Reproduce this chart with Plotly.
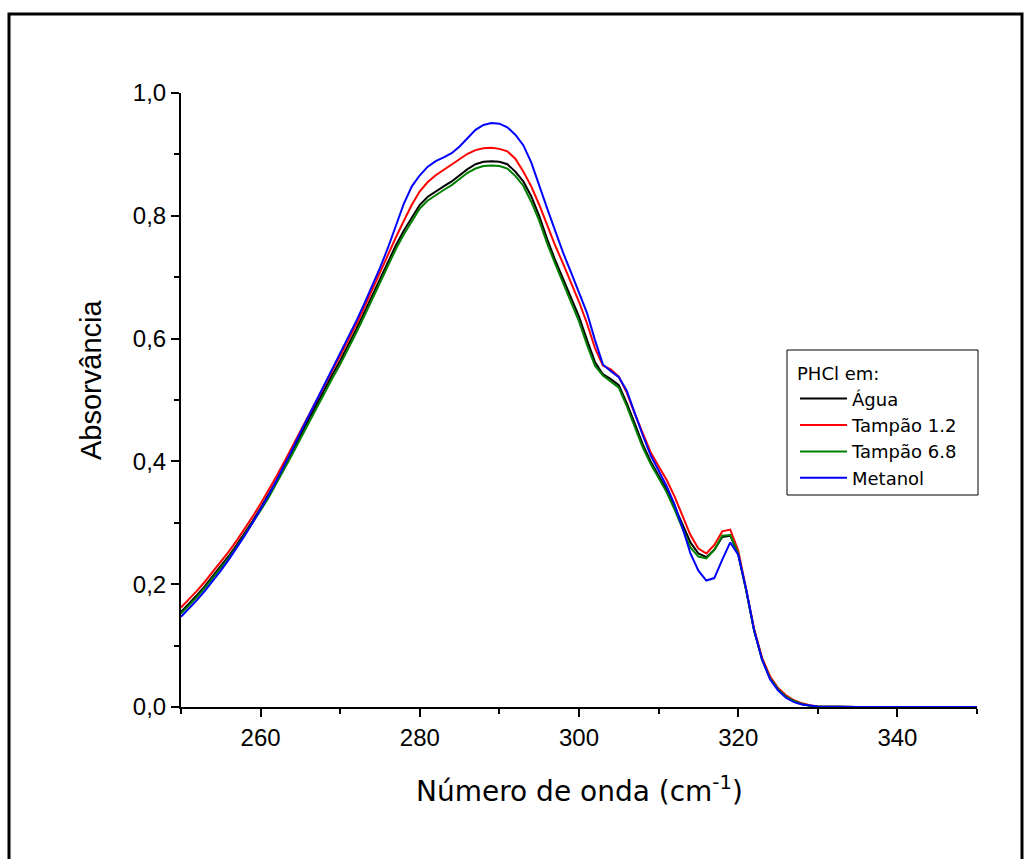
import plotly.graph_objects as go

wavenumber = list(range(250, 331)) + [335, 340, 345, 350]

agua = [0.155, 0.168, 0.182, 0.197, 0.213, 0.229, 0.246, 0.264, 0.283, 0.303,
        0.324, 0.346, 0.369, 0.393, 0.418, 0.443, 0.468, 0.493, 0.517, 0.541,
        0.564, 0.589, 0.615, 0.642, 0.670, 0.698, 0.726, 0.752, 0.776, 0.798,
        0.818, 0.831, 0.840, 0.848, 0.856, 0.866, 0.876, 0.884, 0.888, 0.889,
        0.888, 0.884, 0.872, 0.856, 0.832, 0.800, 0.762, 0.728, 0.697, 0.667,
        0.636, 0.598, 0.562, 0.542, 0.534, 0.524, 0.495, 0.462, 0.428, 0.400,
        0.378, 0.354, 0.327, 0.297, 0.268, 0.250, 0.244, 0.256, 0.277, 0.279,
        0.249, 0.190, 0.125, 0.078, 0.048, 0.030, 0.018, 0.010, 0.005, 0.002,
        0.001, 0.0, 0.0, 0.0, 0.0]

tampao12 = [0.162, 0.175, 0.189, 0.204, 0.220, 0.236, 0.253, 0.271, 0.290, 0.310,
            0.331, 0.353, 0.376, 0.400, 0.425, 0.450, 0.475, 0.500, 0.524, 0.548,
            0.572, 0.597, 0.623, 0.650, 0.679, 0.708, 0.737, 0.765, 0.792, 0.818,
            0.840, 0.855, 0.866, 0.875, 0.883, 0.892, 0.901, 0.907, 0.910, 0.911,
            0.909, 0.905, 0.893, 0.872, 0.848, 0.818, 0.784, 0.752, 0.722, 0.692,
            0.660, 0.625, 0.585, 0.556, 0.550, 0.538, 0.512, 0.478, 0.445, 0.415,
            0.392, 0.370, 0.343, 0.312, 0.280, 0.258, 0.250, 0.264, 0.286, 0.289,
            0.255, 0.192, 0.127, 0.080, 0.050, 0.031, 0.019, 0.011, 0.006, 0.003,
            0.001, 0.0, 0.0, 0.0, 0.0]

tampao68 = [0.152, 0.165, 0.179, 0.194, 0.210, 0.226, 0.243, 0.261, 0.280, 0.299,
            0.320, 0.341, 0.364, 0.388, 0.412, 0.437, 0.462, 0.487, 0.511, 0.535,
            0.558, 0.583, 0.609, 0.636, 0.664, 0.692, 0.720, 0.746, 0.770, 0.792,
            0.812, 0.825, 0.834, 0.842, 0.850, 0.860, 0.870, 0.877, 0.881, 0.882,
            0.881, 0.877, 0.865, 0.849, 0.823, 0.792, 0.755, 0.722, 0.690, 0.660,
            0.628, 0.590, 0.556, 0.540, 0.530, 0.520, 0.490, 0.456, 0.423, 0.396,
            0.374, 0.350, 0.322, 0.290, 0.260, 0.245, 0.242, 0.256, 0.279, 0.280,
            0.250, 0.190, 0.124, 0.077, 0.047, 0.029, 0.017, 0.010, 0.005, 0.002,
            0.001, 0.0, 0.0, 0.0, 0.0]

metanol = [0.147, 0.160, 0.174, 0.189, 0.205, 0.222, 0.240, 0.259, 0.279, 0.300,
           0.322, 0.345, 0.369, 0.394, 0.420, 0.447, 0.473, 0.499, 0.525, 0.550,
           0.575, 0.601, 0.628, 0.656, 0.685, 0.715, 0.748, 0.785, 0.820, 0.848,
           0.866, 0.880, 0.889, 0.895, 0.902, 0.913, 0.926, 0.940, 0.948, 0.951,
           0.950, 0.944, 0.932, 0.915, 0.887, 0.848, 0.812, 0.776, 0.740, 0.708,
           0.676, 0.642, 0.598, 0.558, 0.547, 0.537, 0.515, 0.478, 0.443, 0.410,
           0.385, 0.360, 0.330, 0.292, 0.250, 0.222, 0.206, 0.210, 0.240, 0.268,
           0.248, 0.192, 0.125, 0.077, 0.045, 0.027, 0.015, 0.008, 0.004, 0.002,
           0.001, 0.0, 0.0, 0.0, 0.0]

series_names = ["Água", "Tampão 1.2", "Tampão 6.8", "Metanol"]
series_values = [agua, tampao12, tampao68, metanol]
series_colors = ["#000000", "#FF0000", "#008000", "#0000FF"]

fig = go.Figure()
for name, vals, col in zip(series_names, series_values, series_colors):
    fig.add_trace(go.Scatter(x=wavenumber, y=vals, mode="lines", name=name,
                             line=dict(color=col, width=2)))

axis_common = dict(showline=True, linecolor="black", linewidth=2,
                   ticks="outside", ticklen=8, tickwidth=2, tickcolor="black",
                   showgrid=False, zeroline=False,
                   tickfont=dict(family="Liberation Sans, Arial", size=24, color="black"))

fig.update_xaxes(range=[250, 350], tick0=260, dtick=20,
                 minor=dict(ticks="outside", ticklen=5, tickwidth=2, tickcolor="black",
                            tick0=250, dtick=10, showgrid=False),
                 **axis_common)
fig.update_yaxes(range=[0, 1.0], tick0=0, dtick=0.2, tickformat=".1f",
                 minor=dict(ticks="outside", ticklen=5, tickwidth=2, tickcolor="black",
                            tick0=0, dtick=0.1, showgrid=False),
                 **axis_common)

# plot area: x 181..977 px, y 93..707 px
def px_x(p):
    return (p - 181) / 796.0

def px_y(p):
    return (707 - p) / 614.0

fig.update_layout(
    width=1025, height=859,
    margin=dict(l=181, r=48, t=93, b=152),
    paper_bgcolor="white", plot_bgcolor="white",
    separators=",.",
    showlegend=True,
    legend=dict(x=px_x(795), y=px_y(357), xanchor="left", yanchor="top",
                bgcolor="rgba(0,0,0,0)", borderwidth=0,
                font=dict(family="DejaVu Sans", size=18, color="black"),
                title=dict(text="PHCl em:", font=dict(family="DejaVu Sans", size=18, color="black")),
                itemwidth=47, tracegroupgap=0),
    annotations=[
        dict(text="Número de onda (cm<sup>-1</sup>)", xref="paper", yref="paper",
             x=0.5, y=-0.135, xanchor="center", yanchor="middle", showarrow=False,
             font=dict(family="DejaVu Sans", size=28, color="black")),
        dict(text="Absorvância", xref="paper", yref="paper",
             x=px_x(91), y=px_y(380), xanchor="center", yanchor="middle", showarrow=False,
             textangle=-90,
             font=dict(family="Liberation Sans, Arial", size=29, color="black")),
    ],
    shapes=[
        dict(type="rect", xref="paper", yref="paper",
             x0=px_x(9), x1=px_x(1022), y0=px_y(880), y1=px_y(14),
             line=dict(color="black", width=3), fillcolor="rgba(0,0,0,0)"),
        dict(type="rect", xref="paper", yref="paper",
             x0=px_x(787), x1=px_x(978), y0=px_y(495), y1=px_y(350),
             line=dict(color="black", width=1), fillcolor="white", layer="above"),
    ],
)

fig.write_html("out.html")
